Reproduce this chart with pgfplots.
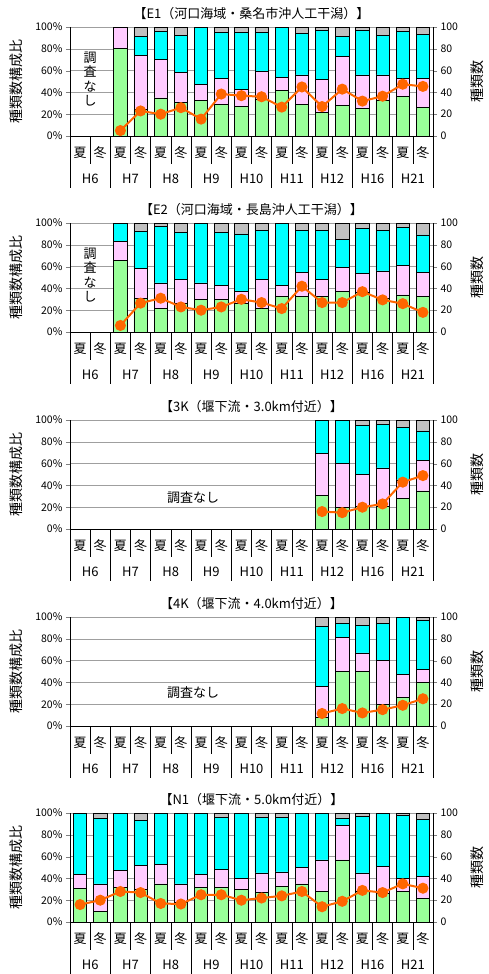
\documentclass[border=0pt]{standalone}
\usepackage{fontspec}
\setmainfont{Noto Sans CJK JP}
\usepackage{pgfplots}
\pgfplotsset{compat=1.18}
\usepackage{pgfplotstable}

\definecolor{cgreen}{RGB}{153,255,153}
\definecolor{cpink}{RGB}{255,204,255}
\definecolor{ccyan}{RGB}{0,255,255}
\definecolor{cgray}{RGB}{192,192,192}
\definecolor{corange}{RGB}{255,102,0}

% x: 0..17 = H6夏,H6冬,H7夏,...,H21冬 ; g/p/c/r = green/pink/cyan/gray share (%), n = 種類数
\pgfplotstableread{
x g p c r n
2 80 20 0 0 5
3 24 50 17 9 23
4 35 35 26 4 20
5 31 27 34 8 26
6 33 14 53 0 15.5
7 29 24 42 5 38.5
8 27 16 52 5 37
9 34 25 36 5 36
10 42 12 46 0 26.5
11 29 27 38 6 45
12 22 30 45 3 27
13 28 45 18 9 43
14 25 31 41 3 32
15 33 23 36 8 36.5
16 36 17 43 4 47.5
17 26 27 40 7 45.5
}\tabEone
\pgfplotstableread{
x g p c r n
2 66 17 17 0 6
3 31 27 34 8 26.5
4 22 23 52 3 31
5 26 22 43 9 23
6 30 15 55 0 20
7 30 13 48 9 23
8 26 11 53 10 30
9 22 26 45 7 27
10 33 10 57 0 21.5
11 33 22 38 7 42
12 33 15 45 7 27
13 37 22 26 15 27
14 36 18 41 5 37
15 31 25 37 7 29.5
16 34 27 35 4 26
17 33 22 34 11 18
}\tabEtwo
\pgfplotstableread{
x g p c r n
12 31 38 31 0 16
13 20 40 40 0 15
14 21 29 45 5 20
15 21 35 40 4 23
16 28 17 48 7 43
17 35 28 27 10 49
}\tabThree
\pgfplotstableread{
x g p c r n
12 8 28 55 9 11.5
13 50 31 13 6 16
14 50 17 25 8 12
15 20 40 34 6 15
16 26 21 53 0 19
17 40 12 45 3 25
}\tabFour
\pgfplotstableread{
x g p c r n
0 31 13 56 0 16
1 10 25 60 5 20
2 32 15 53 0 28
3 30 22 41 7 27
4 35 18 47 0 17
5 18 17 65 0 16.5
6 32 12 56 0 25
7 32 16 48 4 25
8 30 10 60 0 20
9 27 18 51 4 22
10 33 13 50 4 24
11 35 15 50 0 28
12 28 29 43 0 14
13 57 32 6 5 19
14 28 17 52 3 29
15 26 25 49 0 27
16 28 12 58 2 35
17 22 20 52 6 31
}\tabFive

\pgfplotsset{
  pbase/.style={
    width=363pt, height=109pt, scale only axis,
    xmin=-0.5, xmax=17.5, ymin=0, ymax=100,
    axis line style={-,black}, tick align=outside, major tick length=4pt,
    ytick={0,20,...,100},
    /pgf/number format/assume math mode=true,
    yticklabel style={font=\fontsize{10.5}{12}\selectfont},
    xticklabel style={font=\fontsize{13}{14}\selectfont, anchor=base},
    xtick style={draw=none},
  },
  lbar/.style={
    pbase,
    axis x line*=bottom, axis y line*=left,
    ymajorgrids, grid style={gray!75, line width=0.6pt},
    yticklabel={\pgfmathprintnumber{\tick}\%},
    xtick={0,...,17},
    xticklabels={夏,冬,夏,冬,夏,冬,夏,冬,夏,冬,夏,冬,夏,冬,夏,冬,夏,冬},
    xticklabel style={yshift=-17pt},
    ylabel={種類数構成比},
    every axis y label/.style={at={(axis description cs:-0.149,0.5)}, rotate=90, anchor=center, font=\fontsize{14}{15}\selectfont},
    title style={font=\fontsize{13}{14}\selectfont, at={(0.5,1)}, anchor=base, yshift=3pt},
    ybar stacked, bar width=0.66,
    every axis plot/.append style={draw=black, line width=0.7pt},
  },
  rline/.style={
    pbase,
    axis x line*=bottom, axis y line*=right,
    xtick={0.5,2.5,...,16.5},
    xticklabels={H6,H7,H8,H9,H10,H11,H12,H16,H21},
    xticklabel style={yshift=-43pt},
    ylabel={種類数},
    every axis y label/.style={at={(axis description cs:1.121,0.5)}, rotate=90, anchor=center, font=\fontsize{14}{15}\selectfont},
  },
  cnt/.style={corange, line width=2pt, mark=*, mark size=4.5pt, mark options={fill=corange, draw=corange}},
}

\newcommand{\bars}[1]{%
  \addplot[fill=cgreen] table[x=x,y=g] {#1};
  \addplot[fill=cpink]  table[x=x,y=p] {#1};
  \addplot[fill=ccyan]  table[x=x,y=c] {#1};
  \addplot[fill=cgray]  table[x=x,y=r] {#1};
}

\begin{document}
\begin{tikzpicture}
\path[use as bounding box] (-70pt,27pt) rectangle (419pt,-947pt);

% E1
\begin{axis}[lbar, at={(0,0)}, anchor=north west, title={【E1（河口海域・桑名市沖人工干潟）】}]
\bars{\tabEone}
\end{axis}
\begin{axis}[rline, at={(0,0)}, anchor=north west]
\addplot[cnt] table[x=x,y=n] {\tabEone};
\end{axis}
\node[align=center, font=\fontsize{13}{14.5}\selectfont] at (20pt,-52pt) {調\\査\\な\\し};

% E2
\begin{axis}[lbar, at={(0,-196pt)}, anchor=north west, title={【E2（河口海域・長島沖人工干潟）】}]
\bars{\tabEtwo}
\end{axis}
\begin{axis}[rline, at={(0,-196pt)}, anchor=north west]
\addplot[cnt] table[x=x,y=n] {\tabEtwo};
\end{axis}
\node[align=center, font=\fontsize{13}{14.5}\selectfont] at (20pt,-248pt) {調\\査\\な\\し};

% 3K
\begin{axis}[lbar, at={(0,-393pt)}, anchor=north west, title={【3K（堰下流・3.0km付近）】}]
\bars{\tabThree}
\end{axis}
\begin{axis}[rline, at={(0,-393pt)}, anchor=north west]
\addplot[cnt] table[x=x,y=n] {\tabThree};
\end{axis}
\node[font=\fontsize{13}{14}\selectfont] at (123pt,-471pt) {調査なし};

% 4K
\begin{axis}[lbar, at={(0,-590pt)}, anchor=north west, title={【4K（堰下流・4.0km付近）】}]
\bars{\tabFour}
\end{axis}
\begin{axis}[rline, at={(0,-590pt)}, anchor=north west]
\addplot[cnt] table[x=x,y=n] {\tabFour};
\end{axis}
\node[font=\fontsize{13}{14}\selectfont] at (123pt,-666pt) {調査なし};

% N1
\begin{axis}[lbar, at={(0,-786pt)}, anchor=north west, title={【N1（堰下流・5.0km付近）】}]
\bars{\tabFive}
\end{axis}
\begin{axis}[rline, at={(0,-786pt)}, anchor=north west]
\addplot[cnt] table[x=x,y=n] {\tabFive};
\end{axis}

% category table lines under each panel
\foreach \t in {0,-196,-393,-590,-786} {
  \foreach \i in {0,...,18} {
    \draw[black, line width=0.6pt] ({\i*20.1667pt},{(\t-109)*1pt}) -- ++(0,-28pt);
  }
  \foreach \i in {0,2,...,18} {
    \draw[black, line width=0.6pt] ({\i*20.1667pt},{(\t-109)*1pt}) -- ++(0,-52pt);
  }
}
\end{tikzpicture}
\end{document}
